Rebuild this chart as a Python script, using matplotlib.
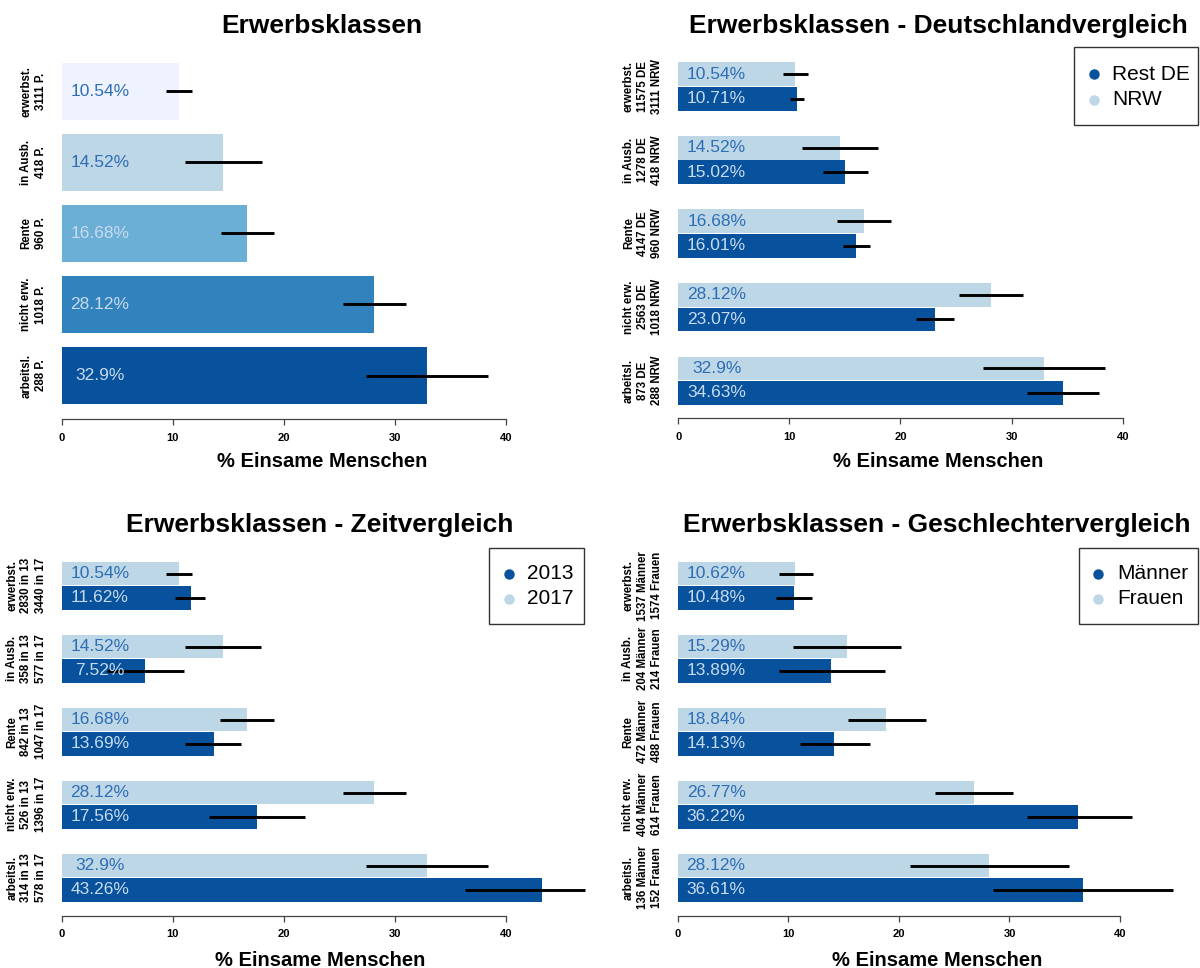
import numpy as np
import matplotlib.pyplot as plt
import matplotlib.transforms as mtransforms
from matplotlib.patches import Rectangle
from matplotlib.lines import Line2D

plt.rcParams['font.family'] = ['Liberation Sans', 'DejaVu Sans']

W, H = 1200, 968
DARK = '#08519C'
LIGHT = '#BDD7E7'
TXT_BLUE = '#2F6DB5'
TXT_PALE = '#C6DBEF'

# categories, top to bottom
categories = ['erwerbst.', 'in Ausb.', 'Rente', 'nicht erw.', 'arbeitsl.']

# panel 1: all NRW
pct_nrw = [10.54, 14.52, 16.68, 28.12, 32.9]
n_nrw = [3111, 418, 960, 1018, 288]
lo_nrw = [9.4, 11.1, 14.3, 25.3, 27.4]
hi_nrw = [11.7, 18.0, 19.1, 31.0, 38.4]
colors_all = ['#EFF3FF', '#BDD7E7', '#6BAED6', '#3182BD', '#08519C']

# panel 2: NRW vs rest of Germany
pct_de = [10.71, 15.02, 16.01, 23.07, 34.63]
n_de = [11575, 1278, 4147, 2563, 873]
lo_de = [10.05, 13.05, 14.85, 21.4, 31.4]
hi_de = [11.35, 17.05, 17.25, 24.8, 37.9]

# panel 3: 2013 vs 2017 (2017 = NRW values)
pct_13 = [11.62, 7.52, 13.69, 17.56, 43.26]
n_13 = [2830, 358, 842, 526, 314]
n_17 = [3440, 577, 1047, 1396, 578]
lo_13 = [10.2, 4.1, 11.15, 13.25, 36.3]
hi_13 = [12.95, 11.0, 16.15, 21.9, 47.1]

# panel 4: men vs women
pct_m = [10.48, 13.89, 14.13, 36.22, 36.61]
pct_f = [10.62, 15.29, 18.84, 26.77, 28.12]
n_m = [1537, 204, 472, 404, 136]
n_f = [1574, 214, 488, 614, 152]
lo_m = [8.9, 9.1, 11.0, 31.55, 28.5]
hi_m = [12.1, 18.7, 17.4, 41.05, 44.8]
lo_f = [9.1, 10.45, 15.35, 23.25, 21.0]
hi_f = [12.2, 20.2, 22.4, 30.35, 35.4]

fig = plt.figure(figsize=(W / 100, H / 100), dpi=100)
px = mtransforms.Affine2D().scale(1.0 / W, -1.0 / H).translate(0, 1) + fig.transFigure


def make_axes(left, top, bottom, scale, xmax, ylim):
    ax = fig.add_axes([left / W, 1 - bottom / H, xmax * scale / W, (bottom - top) / H])
    ax.set_xlim(0, xmax)
    ax.set_ylim(*ylim)
    for s in ['top', 'right', 'left']:
        ax.spines[s].set_visible(False)
    ax.spines['bottom'].set_bounds(0, 40)
    ax.spines['bottom'].set_color('#444')
    ax.spines['bottom'].set_linewidth(0.9)
    ax.set_xticks([0, 10, 20, 30, 40])
    ax.tick_params(axis='x', length=4.3, width=0.9, color='#444', pad=5.5, labelsize=8)
    for lab in ax.get_xticklabels():
        lab.set_fontweight('bold')
    ax.tick_params(axis='y', length=0, pad=10.8)
    ax.patch.set_visible(False)
    return ax


def set_labels(ax, pos, labels):
    ax.set_yticks(pos)
    ax.set_yticklabels(labels, rotation=90, va='center', ha='right', multialignment='center',
                       fontsize=8.3, fontweight='bold', linespacing=1.25)


def value_text(ax, y, v, pale):
    ax.text(3.45, y, f"{v:g}%", ha='center', va='center', fontsize=12.5,
            color=TXT_PALE if pale else TXT_BLUE)


def titles(cx, top, title):
    fig.text(cx, top + 33, title, transform=px, ha='center', va='baseline',
             fontsize=19, fontweight='bold')
    fig.text(cx, top + 467, '% Einsame Menschen', transform=px, ha='center', va='baseline',
             fontsize=14.5, fontweight='bold')


def legend(x0, y0, x1, y1, mx, tx, rows, labels, cols):
    fig.add_artist(Rectangle((x0, y0), x1 - x0, y1 - y0, transform=px, fill=False,
                             ec='#333', lw=1))
    for ry, lab, c in zip(rows, labels, cols):
        fig.add_artist(Line2D([mx], [ry], transform=px, marker='o', ms=6.5, color=c, ls='none'))
        fig.text(tx, ry, lab, transform=px, va='center', ha='left', fontsize=15)


def grouped(ax, light, dark, lo_l, hi_l, lo_d, hi_d, labels):
    k = len(light)
    centers = np.array([3 * (k - 1 - i) + 2 for i in range(k)], dtype=float)
    ax.barh(centers + 0.5, light, height=0.96, color=LIGHT, linewidth=0)
    ax.barh(centers - 0.5, dark, height=0.96, color=DARK, linewidth=0)
    ax.hlines(centers + 0.5, lo_l, hi_l, color='black', lw=2.1, clip_on=False)
    ax.hlines(centers - 0.5, lo_d, hi_d, color='black', lw=2.1, clip_on=False)
    for c, vl, vd in zip(centers, light, dark):
        value_text(ax, c + 0.5, vl, False)
        value_text(ax, c - 0.5, vd, True)
    set_labels(ax, centers, labels)


# --- panel 1 ---
ax1 = make_axes(61.7, 50, 419, 11.11, 46, (-0.035, 6.2))
pos1 = np.array([1.2 * (len(categories) - 1 - i) + 0.7 for i in range(len(categories))])
ax1.barh(pos1, pct_nrw, height=0.97, color=colors_all, linewidth=0)
ax1.hlines(pos1, lo_nrw, hi_nrw, color='black', lw=2.1)
for p, v, c in zip(pos1, pct_nrw, colors_all):
    value_text(ax1, p, v, c in ['#6BAED6', '#3182BD', '#08519C'])
set_labels(ax1, pos1, [f"{c}\n{n} P." for c, n in zip(categories, n_nrw)])
titles(322, 0, 'Erwerbsklassen')

# --- panel 2 ---
ax2 = make_axes(678.3, 50, 418, 11.11, 47, (0.47, 15.49))
grouped(ax2, pct_nrw, pct_de, lo_nrw, hi_nrw, lo_de, hi_de,
        [f"{c}\n{d} DE\n{n} NRW" for c, d, n in zip(categories, n_de, n_nrw)])
titles(938, 0, 'Erwerbsklassen - Deutschlandvergleich')
legend(1074, 47, 1198, 125, 1094, 1112, [74, 99.5], ['Rest DE', 'NRW'], [DARK, LIGHT])

# --- panel 3 ---
ax3 = make_axes(61.7, 540, 915.7, 11.1, 48, (0.44, 15.88))
grouped(ax3, pct_nrw, pct_13, lo_nrw, hi_nrw, lo_13, hi_13,
        [f"{c}\n{a} in 13\n{b} in 17" for c, a, b in zip(categories, n_13, n_17)])
titles(320, 499, 'Erwerbsklassen - Zeitvergleich')
legend(489, 548, 584, 624, 509, 527, [573.5, 599], ['2013', '2017'], [DARK, LIGHT])

# --- panel 4 ---
ax4 = make_axes(678, 540, 915.7, 11.05, 47, (0.44, 15.88))
grouped(ax4, pct_f, pct_m, lo_f, hi_f, lo_m, hi_m,
        [f"{c}\n{a} Männer\n{b} Frauen" for c, a, b in zip(categories, n_m, n_f)])
titles(937, 499, 'Erwerbsklassen - Geschlechtervergleich')
legend(1079, 548, 1198, 624, 1098, 1117, [573.5, 599], ['Männer', 'Frauen'], [DARK, LIGHT])

fig.savefig('out.png', dpi=100)
